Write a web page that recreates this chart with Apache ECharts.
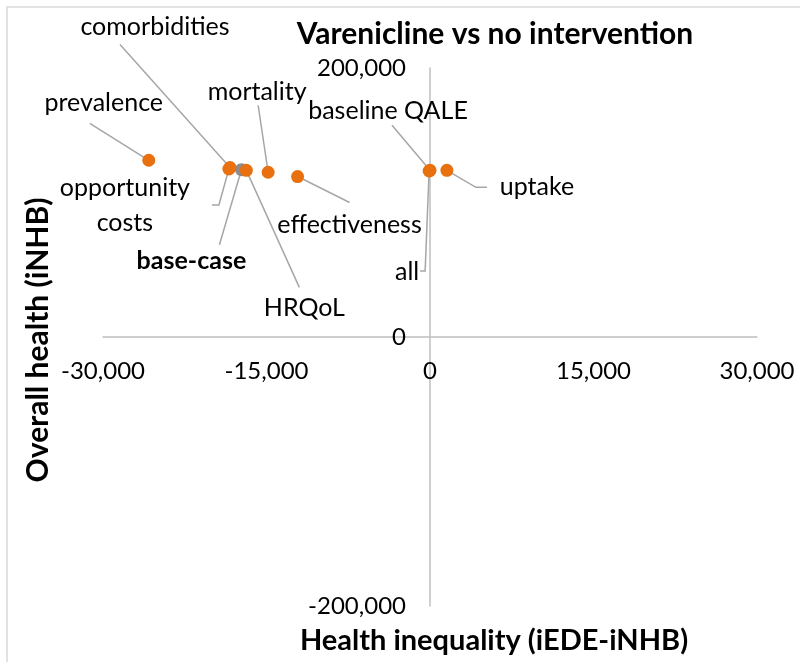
<!DOCTYPE html>
<html>
<head>
<meta charset="utf-8">
<script src="https://cdn.jsdelivr.net/npm/echarts@6/dist/echarts.min.js"></script>
<style>
  html, body { margin: 0; padding: 0; background: #fff; }
  #chart { width: 800px; height: 662px; }
</style>
</head>
<body>
<div id="chart"></div>
<script>
// scenario names and their (inequality, health) results
var names = ["base-case", "prevalence", "comorbidities", "opportunity\ncosts", "HRQoL",
  "mortality", "effectiveness", "baseline QALE", "all", "uptake"];
var inequality = [-17300, -25800, -18350, -18450, -16850, -14850, -12150, 0, -80, 1550];
var health = [124400, 131400, 126000, 124900, 123900, 122500, 119300, 123900, 123400, 123900];
var xTicks = [-30000, 30000, 15000];
var yTicks = [-200000, 200000, 200000];

// where each label sits relative to its point (px), like dragged Excel labels
var labelOffsets = [[-50, 91], [-45, -57], [-75, -141], [-104, 36], [58, 138],
  [-11, -80], [52, 48], [-42, -59], [-22, 101], [90, 17]];
// leader line bends / end, relative to the point (px)
var leaderPaths = [
  [[-22, 75]],
  [[-59, -37]],
  [[-110, -123]],
  [[-10, 36], [-17, 36]],
  [[53, 117]],
  [[-10, -67]],
  [[52, 26]],
  [[-38, -45]],
  [[-4, 100], [-9, 100]],
  [[29, 17], [40, 17]]
];

var orange = "#E8700F";
var grey = "#8C8C8C";
var font = "Lato";

var seriesData = [];
for (var i = 0; i < names.length; i++) {
  seriesData.push([inequality[i], health[i]]);
}

function renderLabel(params, api) {
  var i = params.dataIndex;
  var p = api.coord([api.value(0), api.value(1)]);
  var pts = [p];
  leaderPaths[i].forEach(function (o) { pts.push([p[0] + o[0], p[1] + o[1]]); });
  return {
    type: "group",
    children: [
      {
        type: "polyline",
        shape: { points: pts },
        style: { stroke: "#A6A6A6", lineWidth: 1.5, fill: null }
      },
      {
        type: "text",
        x: p[0] + labelOffsets[i][0],
        y: p[1] + labelOffsets[i][1],
        style: {
          text: names[i], fontFamily: font, fontSize: 25,
          fontWeight: i === 0 ? "bold" : "normal", fill: "#000",
          align: "center", verticalAlign: "middle", lineHeight: 35
        }
      }
    ]
  };
}

var myChart = echarts.init(document.getElementById("chart"));
var option = {
  animation: false,
  title: {
    text: "Varenicline vs no intervention",
    left: 490,
    top: 14,
    textAlign: "center",
    textStyle: { fontFamily: font, fontSize: 30, fontWeight: "bold", color: "#000" }
  },
  grid: { left: 103, right: 43, top: 68, bottom: 56, outerBoundsMode: "none" },
  xAxis: {
    type: "value",
    min: xTicks[0],
    max: xTicks[1],
    interval: xTicks[2],
    offset: -269, // axis drawn through y = 0
    splitLine: { show: false },
    axisTick: { show: false },
    axisLine: { onZero: false, lineStyle: { color: "#BFBFBF", width: 1.5 } },
    axisLabel: {
      fontFamily: font, fontSize: 24, color: "#000", margin: 22,
      formatter: function (v) { return v.toLocaleString("en-US"); }
    }
  },
  yAxis: {
    type: "value",
    min: yTicks[0],
    max: yTicks[1],
    interval: yTicks[2],
    offset: -327, // axis drawn through x = 0
    splitLine: { show: false },
    axisTick: { show: false },
    axisLine: { onZero: false, lineStyle: { color: "#BFBFBF", width: 1.5 } },
    axisLabel: {
      fontFamily: font, fontSize: 24, color: "#000", margin: 24,
      formatter: function (v) { return v.toLocaleString("en-US"); }
    }
  },
  graphic: [
    {
      type: "rect",
      shape: { x: 7, y: 7, width: 820, height: 700 },
      style: { fill: "none", stroke: "#D9D9D9", lineWidth: 1.5 },
      silent: true
    },
    {
      type: "text",
      x: 38,
      y: 340,
      rotation: Math.PI / 2,
      style: {
        text: "Overall health (iNHB)", fontFamily: font, fontSize: 30, fontWeight: "bold",
        fill: "#000", textAlign: "center", textVerticalAlign: "middle"
      }
    },
    {
      type: "text",
      x: 494,
      y: 641,
      style: {
        text: "Health inequality (iEDE-iNHB)", fontFamily: font, fontSize: 29, fontWeight: "bold",
        fill: "#000", textAlign: "center", textVerticalAlign: "middle"
      }
    }
  ],
  series: [
    {
      type: "custom",
      data: seriesData,
      clip: false,
      z: 2,
      renderItem: renderLabel
    },
    {
      type: "scatter",
      symbolSize: 13,
      data: seriesData,
      z: 3,
      itemStyle: {
        opacity: 1,
        color: function (p) { return p.dataIndex === 0 ? grey : orange; }
      }
    }
  ]
};
myChart.setOption(option);
</script>
</body>
</html>
